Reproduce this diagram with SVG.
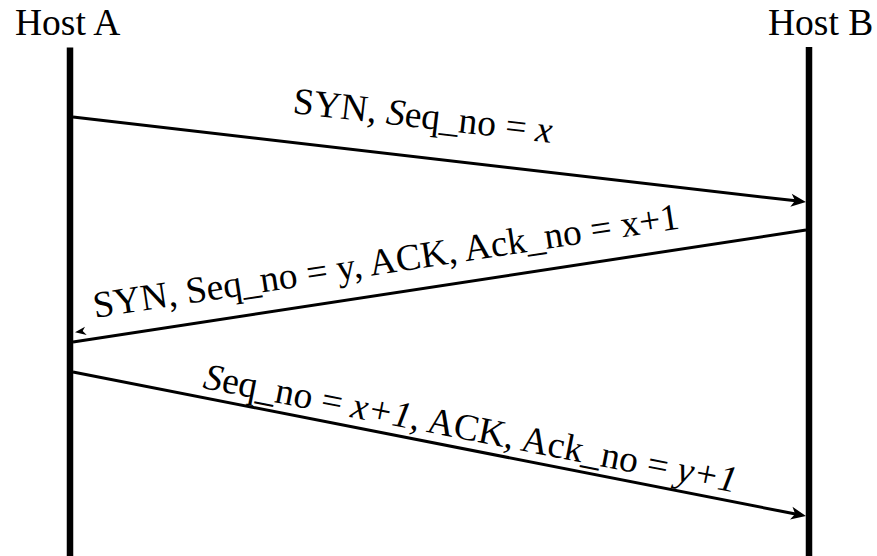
<svg xmlns="http://www.w3.org/2000/svg" width="877" height="556" viewBox="0 0 877 556">
  <style>
    text { font-family: "Liberation Serif", "Times New Roman", serif; font-size: 37.5px; fill: #000; }
    .it { font-style: italic; }
    .host-line { stroke: #000; stroke-width: 6.5; fill: none; }
    .msg { stroke: #000; stroke-width: 3; fill: none; }
  </style>
  <defs>
    <marker id="dart" markerUnits="userSpaceOnUse" markerWidth="20" markerHeight="16" viewBox="-8 -8 17 16" refX="0" refY="0" orient="auto">
      <path d="M8,0 L-7,-6.5 L-3,0 L-7,6.5 Z" fill="#000"/>
    </marker>
  </defs>
  <rect width="877" height="556" fill="#fff"/>

  <!-- Host A timeline -->
  <g id="host-a">
    <text x="15" y="35">Host A</text>
    <line class="host-line" x1="70" y1="47.5" x2="70" y2="556"/>
  </g>

  <!-- Host B timeline -->
  <g id="host-b">
    <text x="768" y="35">Host B</text>
    <line class="host-line" x1="809" y1="47" x2="809" y2="556"/>
  </g>

  <!-- Handshake messages -->
  <g id="connectors">
    <g id="msg-syn">
      <line class="msg" x1="73" y1="117" x2="798" y2="201.1" marker-end="url(#dart)"/>
      <text transform="translate(292,113) rotate(6.6)">SYN, <tspan class="it">S</tspan>eq_no = <tspan class="it">x</tspan></text>
    </g>
    <g id="msg-synack">
      <line class="msg" x1="806" y1="230" x2="73" y2="342"/>
      <path d="M75,332.3 L85,326.7 L82.7,331 L86.7,335 Z" fill="#000"/>
      <text transform="translate(95,318) rotate(-8.69)">SYN, Seq_no = y, ACK, Ack_no = x+1</text>
    </g>
    <g id="msg-ack">
      <line class="msg" x1="73" y1="372" x2="798.1" y2="514.5" marker-end="url(#dart)"/>
      <text transform="translate(202,388) rotate(11.1)"><tspan class="it">S</tspan>eq_no = <tspan class="it">x+1</tspan>, ACK, Ack_no = <tspan class="it">y+1</tspan></text>
    </g>
  </g>
</svg>
